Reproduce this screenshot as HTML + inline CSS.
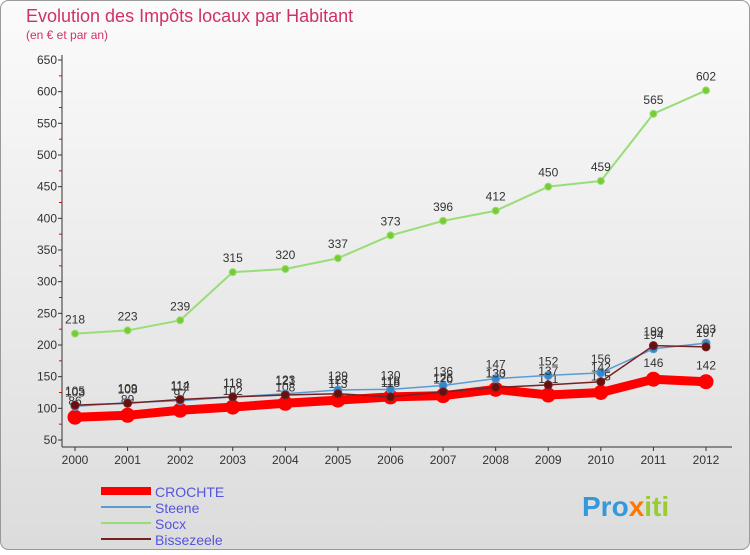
<!DOCTYPE html>
<html><head><meta charset="utf-8"><style>
body{margin:0;width:750px;height:550px;overflow:hidden;font-family:"Liberation Sans",sans-serif}
</style></head><body>
<svg width="750" height="550" xmlns="http://www.w3.org/2000/svg">
<defs><linearGradient id="bg" x1="0" y1="0" x2="0" y2="1"><stop offset="0" stop-color="#fbfbfb"/><stop offset="1" stop-color="#dcdcdc"/></linearGradient></defs>
<rect x="0.5" y="0.5" width="749" height="549" rx="8" fill="url(#bg)" stroke="#999"/>
<text x="26" y="22" font-size="18" fill="#d0306a">Evolution des Impôts locaux par Habitant</text>
<text x="26" y="39" font-size="12" fill="#d0306a">(en € et par an)</text>
<g id="axes"></g>
<g id="series"></g>
<g id="legend">
<rect x="101" y="487" width="50" height="8" fill="#ff0000"/>
<text x="155" y="497" font-size="14" fill="#5555dd">CROCHTE</text>
<line x1="101" y1="507" x2="151" y2="507" stroke="#5b9bd5" stroke-width="2"/>
<text x="155" y="513" font-size="14" fill="#5555dd">Steene</text>
<line x1="101" y1="523" x2="151" y2="523" stroke="#99dd77" stroke-width="2"/>
<text x="155" y="529" font-size="14" fill="#5555dd">Socx</text>
<line x1="101" y1="539" x2="151" y2="539" stroke="#772222" stroke-width="2"/>
<text x="155" y="545" font-size="14" fill="#5555dd">Bissezeele</text>
</g>
<text x="582" y="516" font-size="28" font-weight="bold"><tspan fill="#3399dd">Pro</tspan><tspan fill="#ff7700">x</tspan><tspan fill="#99cc33">iti</tspan></text>
</svg>
<script>
const years=[2000,2001,2002,2003,2004,2005,2006,2007,2008,2009,2010,2011,2012];
const yTicks=[50,100,150,200,250,300,350,400,450,500,550,600,650];
const crochte=[86,89,97,102,108,113,118,120,130,121,125,146,142];
const steene=[103,109,112,118,123,129,130,136,147,152,156,194,203];
const socx=[218,223,239,315,320,337,373,396,412,450,459,565,602];
const bissezeele=[105,108,114,118,121,123,118,126,133,137,142,199,197];
const NS="http://www.w3.org/2000/svg";
const X=i=>75+i*(706-75)/12;
const Y=v=>440-(v-50)*380/600;
function mk(t,a,p){const e=document.createElementNS(NS,t);for(const k in a)e.setAttribute(k,a[k]);p.appendChild(e);return e;}
const ax=document.getElementById('axes');
let l=mk('line',{x1:62,y1:55,x2:62,y2:447,stroke:'#333'},ax);


l=mk('line',{x1:62,y1:447,x2:732,y2:447,stroke:'#333'},ax);


yTicks.forEach(v=>{
  const t=mk('text',{x:57,y:Y(v)+4,'font-size':12,'text-anchor':'end',fill:'#333'},ax);t.textContent=v;
  
  
  mk('line',{x1:58,y1:Y(v),x2:62,y2:Y(v),stroke:'#333'},ax);
  if(v<650) mk('line',{x1:59,y1:Y(v+25),x2:62,y2:Y(v+25),stroke:'#e00'},ax);
});
years.forEach((y,i)=>{
  const t=mk('text',{x:X(i),y:464,'font-size':12,'text-anchor':'middle',fill:'#333'},ax);t.textContent=y;
  
  
  mk('line',{x1:X(i),y1:447,x2:X(i),y2:451,stroke:'#333'},ax);
});
const sg=document.getElementById('series');
function draw(name,data,color,w,r,fill,lab){
  const g=mk('g',{},sg);
  
  
  const p=mk('polyline',{points:data.map((v,i)=>X(i)+','+Y(v)).join(' '),fill:'none',stroke:color,'stroke-width':w,'stroke-linejoin':'round'},g);
  
  
  data.forEach((v,i)=>{
    const c=mk('circle',{cx:X(i),cy:Y(v),r:r,fill:fill,stroke:color,'stroke-width':1},g);
    
    
    if(lab){const t=mk('text',{x:X(i),y:Y(v)-10,'font-size':12,'text-anchor':'middle',fill:'#333'},g);t.textContent=v;
      
      }
  });
}
draw('socx',socx,'#99dd77',2,3.5,'#77cc33',true);
draw('crochte',crochte,'#ff0000',9,7,'#ff0000',false);
crochte.forEach((v,i)=>{const t=mk('text',{x:X(i),y:Y(v)-12,'font-size':12,'text-anchor':'middle',fill:'#333'},sg);t.textContent=v;
  
  });
draw('steene',steene,'#5b9bd5',1.5,4,'#3388cc',true);
draw('bissezeele',bissezeele,'#772222',1.5,4,'#661111',true);
</script>
</body></html>
